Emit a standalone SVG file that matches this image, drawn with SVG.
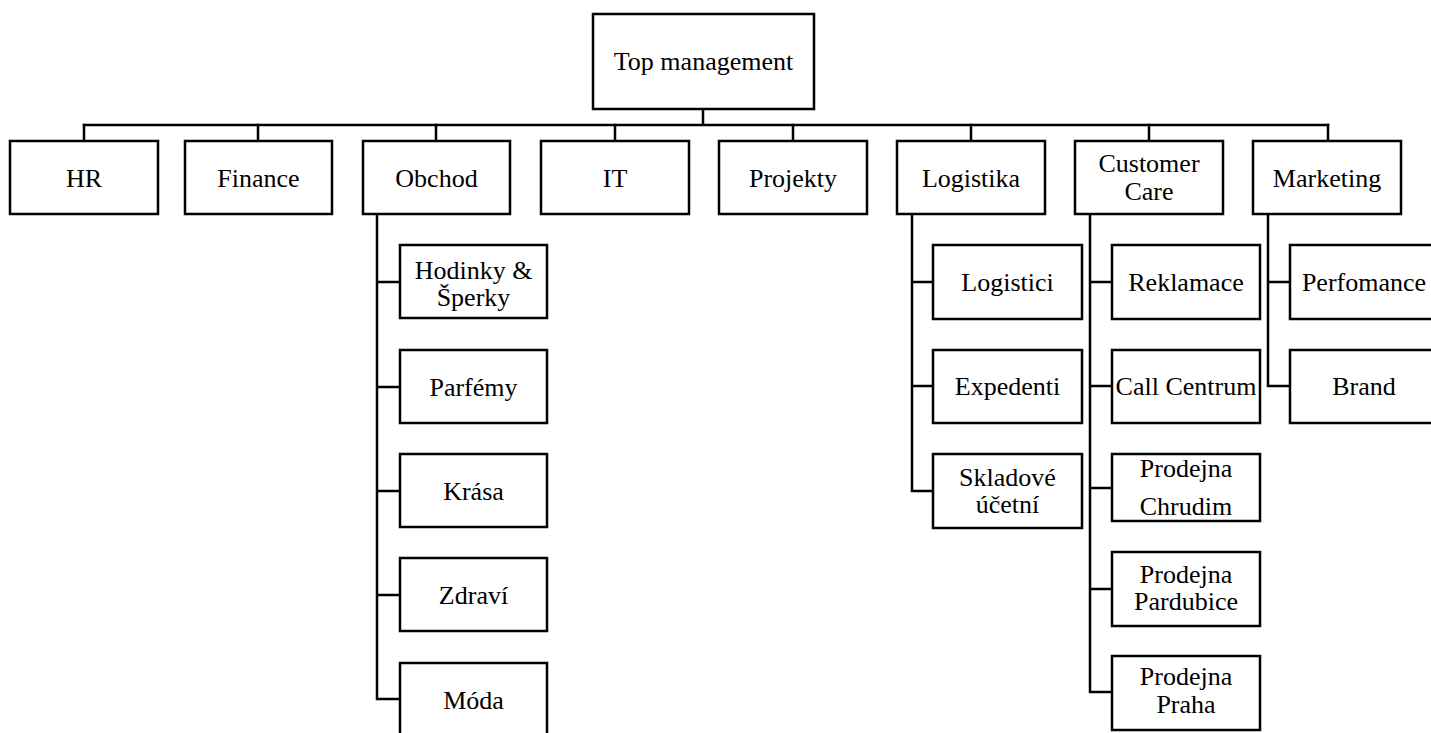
<svg xmlns="http://www.w3.org/2000/svg" width="1431" height="733" viewBox="0 0 1431 733">
  <style>
    .box { fill: #ffffff; stroke: #000000; stroke-width: 2.5; }
    .link { fill: none; stroke: #000000; stroke-width: 2.5; stroke-linecap: square; }
    text { font-family: "Liberation Serif", "Times New Roman", serif; font-size: 26px; fill: #000000; text-anchor: middle; }
  </style>
  <rect width="1431" height="733" fill="#ffffff"/>

  <!-- connectors -->
  <g id="connectors">
    <!-- root to level 1 bus -->
    <path class="link" d="M703 109 V125 M84 125 H1328"/>
    <path class="link" d="M84 125 V141 M258 125 V141 M436 125 V141 M615 125 V141 M793 125 V141 M971 125 V141 M1149 125 V141 M1328 125 V141"/>
    <!-- Obchod branch -->
    <path class="link" d="M377 214 V699 M377 282 H400 M377 387 H400 M377 491 H400 M377 595 H400 M377 699 H400"/>
    <!-- Logistika branch -->
    <path class="link" d="M912 214 V491 M912 282 H933 M912 386 H933 M912 491 H933"/>
    <!-- Customer Care branch -->
    <path class="link" d="M1090 214 V692 M1090 282 H1112 M1090 386 H1112 M1090 488 H1112 M1090 589 H1112 M1090 692 H1112"/>
    <!-- Marketing branch -->
    <path class="link" d="M1268 214 V386 M1268 282 H1290 M1268 386 H1290"/>
  </g>

  <!-- root -->
  <g id="top-management">
    <rect class="box" x="593" y="14" width="221" height="95"/>
    <text x="703.5" y="70">Top management</text>
  </g>

  <!-- level 1 -->
  <g id="hr">
    <rect class="box" x="10" y="141" width="148" height="73"/>
    <text x="84" y="187">HR</text>
  </g>
  <g id="finance">
    <rect class="box" x="185" y="141" width="147" height="73"/>
    <text x="258.5" y="187">Finance</text>
  </g>
  <g id="obchod">
    <rect class="box" x="363" y="141" width="147" height="73"/>
    <text x="436.5" y="187">Obchod</text>
  </g>
  <g id="it">
    <rect class="box" x="541" y="141" width="148" height="73"/>
    <text x="615" y="187">IT</text>
  </g>
  <g id="projekty">
    <rect class="box" x="719" y="141" width="148" height="73"/>
    <text x="793" y="187">Projekty</text>
  </g>
  <g id="logistika">
    <rect class="box" x="897" y="141" width="148" height="73"/>
    <text x="971" y="187">Logistika</text>
  </g>
  <g id="customer-care">
    <rect class="box" x="1075" y="141" width="148" height="73"/>
    <text x="1149" y="172">Customer</text>
    <text x="1149" y="200">Care</text>
  </g>
  <g id="marketing">
    <rect class="box" x="1253" y="141" width="148" height="73"/>
    <text x="1327" y="187">Marketing</text>
  </g>

  <!-- Obchod children -->
  <g id="hodinky-sperky">
    <rect class="box" x="400" y="245" width="147" height="73"/>
    <text x="473.5" y="279">Hodinky &amp;</text>
    <text x="473.5" y="306">Šperky</text>
  </g>
  <g id="parfemy">
    <rect class="box" x="400" y="350" width="147" height="73"/>
    <text x="473.5" y="396">Parfémy</text>
  </g>
  <g id="krasa">
    <rect class="box" x="400" y="454" width="147" height="73"/>
    <text x="473.5" y="500">Krása</text>
  </g>
  <g id="zdravi">
    <rect class="box" x="400" y="558" width="147" height="73"/>
    <text x="473.5" y="604">Zdraví</text>
  </g>
  <g id="moda">
    <rect class="box" x="400" y="663" width="147" height="74"/>
    <text x="473.5" y="709">Móda</text>
  </g>

  <!-- Logistika children -->
  <g id="logistici">
    <rect class="box" x="933" y="245" width="149" height="74"/>
    <text x="1007.5" y="291">Logistici</text>
  </g>
  <g id="expedenti">
    <rect class="box" x="933" y="350" width="149" height="73"/>
    <text x="1007.5" y="395">Expedenti</text>
  </g>
  <g id="skladove-ucetni">
    <rect class="box" x="933" y="454" width="149" height="74"/>
    <text x="1007.5" y="486">Skladové</text>
    <text x="1007.5" y="513">účetní</text>
  </g>

  <!-- Customer Care children -->
  <g id="reklamace">
    <rect class="box" x="1112" y="245" width="148" height="74"/>
    <text x="1186" y="291">Reklamace</text>
  </g>
  <g id="call-centrum">
    <rect class="box" x="1112" y="350" width="148" height="73"/>
    <text x="1186" y="395">Call Centrum</text>
  </g>
  <g id="prodejna-chrudim">
    <rect class="box" x="1112" y="454" width="148" height="67"/>
    <text x="1186" y="477">Prodejna</text>
    <text x="1186" y="515">Chrudim</text>
  </g>
  <g id="prodejna-pardubice">
    <rect class="box" x="1112" y="552" width="148" height="74"/>
    <text x="1186" y="583">Prodejna</text>
    <text x="1186" y="610">Pardubice</text>
  </g>
  <g id="prodejna-praha">
    <rect class="box" x="1112" y="656" width="148" height="74"/>
    <text x="1186" y="685">Prodejna</text>
    <text x="1186" y="713">Praha</text>
  </g>

  <!-- Marketing children -->
  <g id="perfomance">
    <rect class="box" x="1290" y="245" width="148" height="74"/>
    <text x="1364" y="291">Perfomance</text>
  </g>
  <g id="brand">
    <rect class="box" x="1290" y="350" width="148" height="73"/>
    <text x="1364" y="395">Brand</text>
  </g>
</svg>
